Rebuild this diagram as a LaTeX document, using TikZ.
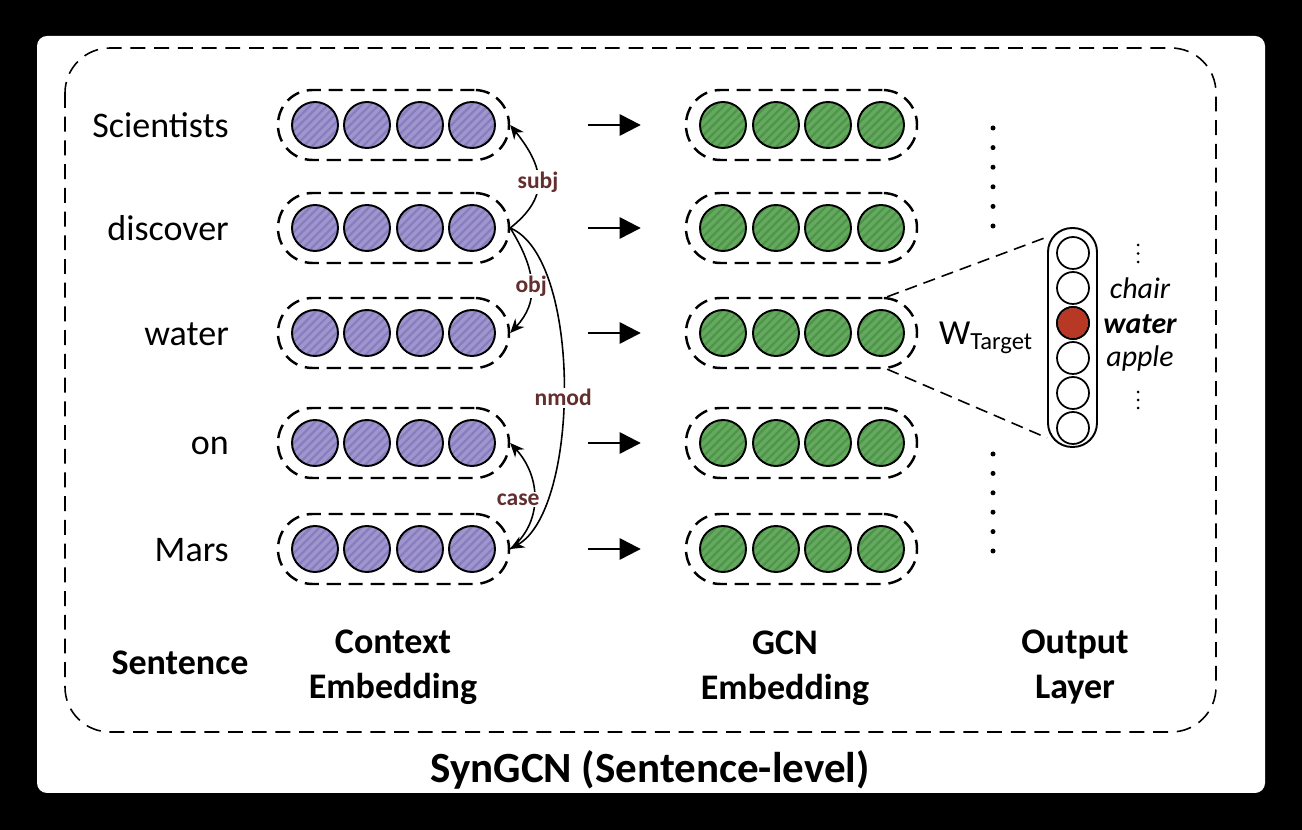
\documentclass[tikz,border=0pt]{standalone}
\usepackage{fontspec}
\setmainfont{Carlito}
\usetikzlibrary{arrows.meta,patterns.meta}

\definecolor{ctxfill}{RGB}{160,150,206}
\definecolor{ctxline}{RGB}{136,125,190}
\definecolor{gcnfill}{RGB}{100,170,94}
\definecolor{gcnline}{RGB}{80,148,76}
\definecolor{hotfill}{RGB}{183,56,36}
\definecolor{relcol}{RGB}{98,46,46}

\begin{document}
\begin{tikzpicture}[>={Stealth[length=8pt,width=7pt]}, line join=round, x=0.02cm, y=0.02cm,
	unit/.style={circle, draw, line width=1.1pt, minimum size=0.92cm, inner sep=0pt},
	ctxunit/.style={unit, preaction={fill=ctxfill}, pattern={Lines[angle=45,distance=3.4pt,line width=1.3pt]}, pattern color=ctxline},
	gcnunit/.style={unit, preaction={fill=gcnfill}, pattern={Lines[angle=45,distance=3.4pt,line width=1.3pt]}, pattern color=gcnline},
	outunit/.style={unit, minimum size=0.64cm, line width=1pt},
	capsule/.style={draw, dash pattern=on 8pt off 4.5pt, line width=1.4pt, rounded corners=0.69cm, minimum width=4.62cm, minimum height=1.4cm},
	word/.style={anchor=base east, font=\fontsize{20.5}{24}\selectfont},
	colhead/.style={font=\fontsize{20.5}{25.5}\selectfont\bfseries, align=center},
	vocab/.style={font=\fontsize{17}{20}\selectfont\itshape},
	rel/.style={font=\fontsize{13.4}{15}\selectfont\bfseries, text=relcol, fill=white, inner sep=1pt},
	dep/.style={->, line width=0.9pt},
	flow/.style={-{Triangle[length=12pt,width=12pt]}, line width=1.4pt}]
	% NỀN: khung đen, thẻ trắng, viền nét đứt
	\fill[black] (0,0) rectangle (1302,-830);
	\fill[white, rounded corners=0.2cm] (37,-36) rectangle (1265,-793);
	\draw[dash pattern=on 8.5pt off 5pt, line width=0.9pt, rounded corners=0.9cm] (65,-48) rectangle (1216,-732);
	
	% CỘT (I): các từ trong câu
	\node[word] (w1) at (235,-138) {Scientists};
	\node[word] (w2) at (235,-241) {discover};
	\node[word] (w3) at (235,-346) {water};
	\node[word] (w4) at (235,-455) {on};
	\node[word] (w5) at (235,-562) {Mars};
	
	% CỘT (II) và (III): context embedding -> GCN embedding
	\foreach \r/\y in {1/125,2/228,3/333,4/443,5/549} {
		\node[capsule] (ctx\r) at (393.5,-\y) {};
		\foreach \k/\x in {1/315,2/367,3/420,4/472}
			\node[ctxunit] (ctx\r-\k) at (\x,-\y) {};
		\node[capsule] (gcn\r) at (801.5,-\y) {};
		\foreach \k/\x in {1/723,2/776,3/828,4/881}
			\node[gcnunit] (gcn\r-\k) at (\x,-\y) {};
		\draw[flow] ([xshift=1.56cm]ctx\r.east) -- ([xshift=-0.88cm]gcn\r.west);
	}
	
	% quan hệ cú pháp
	\draw[dep] (ctx2.east) .. controls +(38,30) and +(36,-45) .. (ctx1.east) node[rel, pos=0.5] {subj};
	\draw[dep] (ctx2.east) .. controls +(28,-45) and +(28,30) .. (ctx3.east) node[rel, pos=0.5] {obj};
	\draw[dep] (ctx2.east) .. controls +(72,-30) and +(70,40) .. (ctx5.east) node[rel, pos=0.53] {nmod};
	\draw[dep] (ctx5.east) .. controls +(32,25) and +(32,-35) .. (ctx4.east) node[rel, pos=0.5, xshift=-0.32cm] {case};
	
	% CỘT (IV): lớp đầu ra
	\foreach \d in {0,...,5} {
		\fill (993,{-128-19.6*\d}) circle (0.05cm);
		\fill (993,{-454-19.4*\d}) circle (0.05cm);
	}
	\node[draw, line width=1.1pt, rounded corners=0.48cm, minimum width=0.98cm, minimum height=4.38cm] (outvec) at (1072.5,-337.5) {};
	\foreach \k/\y in {1/253,2/288,3/323,4/358,5/393,6/428}
		\node[outunit] (o\k) at (1073,-\y) {};
	\fill[hotfill] (o3.center) circle (0.3cm);
	\draw[line width=1pt] (o3.center) circle (0.32cm);
	\draw[dash pattern=on 7pt off 4pt, line width=0.9pt] ([xshift=-0.62cm]gcn3.north east) -- ([yshift=-0.2cm]outvec.north west);
	\draw[dash pattern=on 7pt off 4pt, line width=0.9pt] ([xshift=-0.62cm]gcn3.south east) -- ([yshift=0.2cm]outvec.south west);
	\node[font=\fontsize{20}{22}\selectfont] (wt) at (986,-338) {W\textsubscript{Target}};
	\node[vocab] (v-chair) at (1140,-288) {chair};
	\node[vocab, font=\fontsize{17}{20}\selectfont\bfseries\itshape] (v-water) at (1140,-324) {water};
	\node[vocab] (v-apple) at (1140,-359) {apple};
	\foreach \d in {0,1,2} {
		\fill (1138,{-245-8.5*\d}) circle (0.03cm);
		\fill (1138,{-392-8*\d}) circle (0.03cm);
	}
	
	% nhãn các cột và tiêu đề
	\node[colhead] (h-sent) at (180,-663) {Sentence};
	\node[colhead] (h-ctx) at (393,-667) {Context\\Embedding};
	\node[colhead] (h-gcn) at (785,-668) {GCN\\Embedding};
	\node[colhead] (h-out) at (1075,-667) {Output\\Layer};
	\node[font=\fontsize{24.5}{28}\selectfont\bfseries] (title) at (650,-770) {SynGCN (Sentence-level)};
\end{tikzpicture}
\end{document}
